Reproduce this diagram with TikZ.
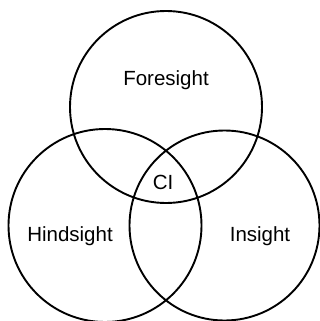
\documentclass[tikz,border=0pt]{standalone}
\usepackage{fontspec}
\setmainfont{Liberation Sans}
\begin{document}
\begin{tikzpicture}[x=1pt,y=-1pt,
  ring/.style={draw=black,line width=1.9pt,circle,inner sep=0pt,outer sep=0pt},
  lbl/.style={font=\fontsize{20.5}{23}\selectfont,text=black}]
\useasboundingbox (0,0) rectangle (320,321);
\node[ring,minimum size=192pt] (fore) at (166,107) {};
\node[ring,minimum size=193pt] (hind) at (105,225.5) {};
\node[ring,minimum size=190pt] (ins) at (224.5,225.5) {};
\node[lbl] (tf) at (166,80) {Foresight};
\node[lbl] (th) at (70,236) {Hindsight};
\node[lbl] (ti) at (260,236) {Insight};
\node[lbl] (tc) at (163,182) {CI};
\end{tikzpicture}
\end{document}
